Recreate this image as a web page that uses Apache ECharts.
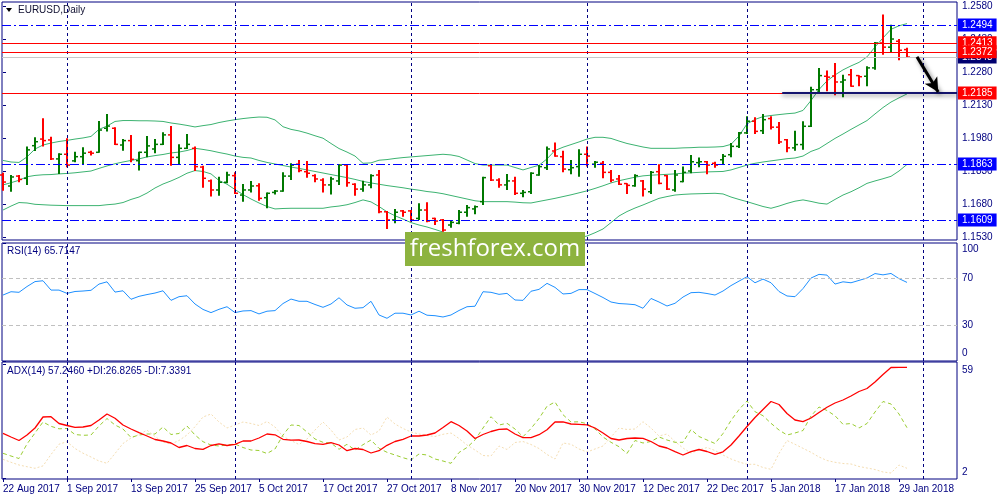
<!DOCTYPE html>
<html>
<head>
<meta charset="utf-8" />
<title>EURUSD,Daily</title>
<style>
  html, body { margin: 0; padding: 0; background: #fff; }
  #chart { width: 1000px; height: 500px; }
</style>
</head>
<body>
<div id="chart"></div>
<script src="https://cdn.jsdelivr.net/npm/echarts@6.0.0/dist/echarts.min.js"></script>
<script>
// date labels, one every 8 bars starting at bar 0
var dateLabels = ['22 Aug 2017', '1 Sep 2017', '13 Sep 2017', '25 Sep 2017', '5 Oct 2017', '17 Oct 2017',
  '27 Oct 2017', '8 Nov 2017', '20 Nov 2017', '30 Nov 2017', '12 Dec 2017', '22 Dec 2017',
  '5 Jan 2018', '17 Jan 2018', '29 Jan 2018'];
var labelBars = [0, 8, 16, 24, 32, 40, 48, 56, 64, 72, 80, 88, 96, 104, 112];
var monthStarts = [8, 29, 51, 73, 93, 115];

// daily OHLC
var opens = [1.1813,1.1763,1.1808,1.1798,1.1946,1.1976,1.1972,1.1886,1.1907,1.1877,
  1.1896,1.1916,1.1916,1.2025,1.2025,1.1949,1.1969,1.1878,1.1916,1.1931,
  1.1952,1.1995,1.1893,1.1934,1.1934,1.1849,1.1786,1.1745,1.1780,1.1810,
  1.1722,1.1745,1.1764,1.1710,1.1734,1.1740,1.1808,1.1862,1.1828,1.1810,
  1.1790,1.1768,1.1786,1.1858,1.1771,1.1749,1.1768,1.1813,1.1646,1.1609,
  1.1650,1.1650,1.1616,1.1654,1.1616,1.1609,1.1586,1.1594,1.1644,1.1659,
  1.1692,1.1855,1.1790,1.1768,1.1786,1.1730,1.1737,1.1813,1.1846,1.1922,
  1.1896,1.1837,1.1851,1.1907,1.1862,1.1866,1.1825,1.1795,1.1774,1.1764,
  1.1786,1.1737,1.1828,1.1810,1.1745,1.1783,1.1831,1.1869,1.1873,1.1866,
  1.1882,1.1905,1.1943,1.2004,1.2057,1.2014,1.2069,1.2030,1.1973,1.1936,
  1.1951,1.2034,1.2200,1.2261,1.2262,1.2235,1.2268,1.2264,1.2261,1.2299,
  1.2412,1.2393,1.2420,1.2382];
var highs = [1.1823,1.1813,1.1813,1.1942,1.1984,1.2070,1.1987,1.1912,1.1980,1.1919,
  1.1939,1.1923,1.2058,1.2090,1.2030,1.1976,1.1995,1.1919,1.1990,1.1976,
  1.2007,1.2035,1.1952,1.1999,1.1942,1.1855,1.1793,1.1805,1.1828,1.1825,
  1.1772,1.1786,1.1775,1.1734,1.1745,1.1825,1.1866,1.1881,1.1877,1.1816,
  1.1798,1.1805,1.1862,1.1862,1.1775,1.1787,1.1816,1.1836,1.1650,1.1659,
  1.1654,1.1654,1.1685,1.1689,1.1619,1.1613,1.1609,1.1654,1.1677,1.1674,
  1.1805,1.1858,1.1798,1.1818,1.1805,1.1745,1.1825,1.1858,1.1942,1.1960,
  1.1923,1.1881,1.1930,1.1942,1.1877,1.1877,1.1836,1.1813,1.1775,1.1816,
  1.1790,1.1831,1.1862,1.1813,1.1836,1.1851,1.1904,1.1892,1.1877,1.1873,
  1.1908,1.1958,1.2008,1.2080,1.2075,1.2090,1.2080,1.2054,1.1976,1.2014,
  1.2057,1.2213,1.2299,1.2287,1.2321,1.2268,1.2294,1.2266,1.2307,1.2417,
  1.2541,1.2495,1.2430,1.2390];
var lows = [1.1742,1.1737,1.1780,1.1768,1.1922,1.1942,1.1881,1.1818,1.1848,1.1871,
  1.1862,1.1901,1.1914,1.2010,1.1949,1.1923,1.1871,1.1833,1.1893,1.1912,
  1.1949,1.1855,1.1862,1.1931,1.1831,1.1755,1.1715,1.1719,1.1775,1.1727,
  1.1692,1.1734,1.1696,1.1662,1.1725,1.1737,1.1790,1.1825,1.1801,1.1780,
  1.1733,1.1725,1.1768,1.1760,1.1719,1.1737,1.1753,1.1639,1.1568,1.1594,
  1.1624,1.1601,1.1609,1.1598,1.1586,1.1556,1.1574,1.1589,1.1624,1.1635,
  1.1677,1.1786,1.1755,1.1745,1.1722,1.1712,1.1727,1.1810,1.1836,1.1896,
  1.1825,1.1816,1.1805,1.1851,1.1846,1.1798,1.1780,1.1768,1.1727,1.1760,
  1.1715,1.1727,1.1771,1.1745,1.1737,1.1780,1.1821,1.1848,1.1816,1.1846,
  1.1860,1.1893,1.1936,1.1999,1.1999,1.1999,1.2019,1.1954,1.1916,1.1923,
  1.1928,1.2031,1.2190,1.2193,1.2175,1.2166,1.2213,1.2216,1.2216,1.2291,
  1.2359,1.2370,1.2334,1.2348];
var closes = [1.1781,1.1804,1.1793,1.1927,1.1964,1.1969,1.1886,1.1907,1.1858,1.1896,
  1.1912,1.1912,1.2017,1.2035,1.1952,1.1969,1.1884,1.1916,1.1945,1.1952,
  1.1995,1.1893,1.1934,1.1952,1.1851,1.1798,1.1745,1.1780,1.1813,1.1730,
  1.1745,1.1763,1.1707,1.1730,1.1740,1.1808,1.1858,1.1833,1.1821,1.1795,
  1.1768,1.1795,1.1858,1.1778,1.1749,1.1768,1.1810,1.1646,1.1609,1.1644,
  1.1644,1.1609,1.1654,1.1604,1.1604,1.1563,1.1598,1.1644,1.1665,1.1669,
  1.1801,1.1790,1.1768,1.1786,1.1730,1.1734,1.1821,1.1851,1.1931,1.1899,
  1.1840,1.1846,1.1907,1.1899,1.1871,1.1825,1.1790,1.1771,1.1766,1.1810,
  1.1749,1.1825,1.1775,1.1749,1.1813,1.1825,1.1873,1.1873,1.1858,1.1858,
  1.1898,1.1943,1.2004,1.2057,1.2011,1.2064,1.2030,1.1963,1.1936,1.1951,
  1.2034,1.2200,1.2264,1.2257,1.2235,1.2244,1.2216,1.2259,1.2299,1.2412,
  1.2393,1.2430,1.2379,1.2348];

// Bollinger bands
var bbUpper = [1.1879,1.1872,1.1870,1.1895,1.1931,1.1949,1.1958,1.1965,1.1970,1.1976,
  1.1981,1.1988,1.2020,1.2035,1.2056,1.2060,1.2060,1.2059,1.2059,1.2058,
  1.2056,1.2049,1.2044,1.2038,1.2031,1.2037,1.2042,1.2051,1.2058,1.2064,
  1.2069,1.2073,1.2076,1.2075,1.2063,1.2032,1.2020,1.2013,1.2003,1.1991,
  1.1980,1.1956,1.1933,1.1917,1.1899,1.1866,1.1868,1.1880,1.1883,1.1888,
  1.1892,1.1895,1.1898,1.1901,1.1904,1.1907,1.1904,1.1897,1.1881,1.1865,
  1.1858,1.1858,1.1858,1.1858,1.1847,1.1836,1.1847,1.1857,1.1886,1.1924,
  1.1939,1.1951,1.1963,1.1976,1.1984,1.1984,1.1979,1.1967,1.1956,1.1948,
  1.1940,1.1934,1.1934,1.1934,1.1934,1.1936,1.1937,1.1939,1.1939,1.1940,
  1.1942,1.1952,1.1990,1.2045,1.2065,1.2078,1.2083,1.2087,1.2091,1.2094,
  1.2106,1.2151,1.2201,1.2240,1.2267,1.2290,1.2308,1.2324,1.2349,1.2394,
  1.2435,1.2474,1.2490,1.2500];
var bbMiddle = [1.1768,1.1778,1.1789,1.1805,1.1811,1.1814,1.1815,1.1818,1.1820,1.1823,
  1.1827,1.1831,1.1843,1.1854,1.1864,1.1872,1.1879,1.1886,1.1895,1.1901,
  1.1906,1.1913,1.1917,1.1924,1.1934,1.1929,1.1923,1.1915,1.1908,1.1899,
  1.1893,1.1890,1.1879,1.1870,1.1863,1.1856,1.1849,1.1843,1.1836,1.1829,
  1.1822,1.1815,1.1808,1.1801,1.1793,1.1784,1.1777,1.1771,1.1765,1.1760,
  1.1755,1.1749,1.1744,1.1738,1.1734,1.1728,1.1720,1.1712,1.1704,1.1696,
  1.1692,1.1692,1.1692,1.1692,1.1690,1.1687,1.1686,1.1693,1.1700,1.1707,
  1.1715,1.1723,1.1732,1.1741,1.1752,1.1764,1.1777,1.1787,1.1795,1.1803,
  1.1809,1.1812,1.1814,1.1816,1.1818,1.1821,1.1823,1.1825,1.1827,1.1828,
  1.1829,1.1836,1.1847,1.1858,1.1866,1.1872,1.1877,1.1882,1.1887,1.1890,
  1.1899,1.1920,1.1933,1.1956,1.1979,1.1999,1.2020,1.2040,1.2060,1.2090,
  1.2119,1.2144,1.2163,1.2181];
var bbLower = [1.1654,1.1672,1.1688,1.1686,1.1680,1.1678,1.1676,1.1675,1.1674,1.1674,
  1.1674,1.1674,1.1674,1.1678,1.1681,1.1688,1.1702,1.1713,1.1731,1.1754,
  1.1772,1.1786,1.1802,1.1821,1.1833,1.1829,1.1818,1.1788,1.1771,1.1747,
  1.1724,1.1704,1.1686,1.1670,1.1659,1.1661,1.1662,1.1662,1.1662,1.1662,
  1.1662,1.1668,1.1672,1.1678,1.1688,1.1700,1.1691,1.1670,1.1646,1.1628,
  1.1613,1.1597,1.1586,1.1577,1.1566,1.1554,1.1545,1.1536,1.1528,1.1520,
  1.1516,1.1512,1.1509,1.1507,1.1504,1.1504,1.1504,1.1504,1.1507,1.1509,
  1.1514,1.1522,1.1529,1.1536,1.1551,1.1568,1.1597,1.1627,1.1647,1.1663,
  1.1677,1.1692,1.1707,1.1715,1.1722,1.1725,1.1727,1.1728,1.1729,1.1730,
  1.1727,1.1713,1.1702,1.1692,1.1681,1.1670,1.1662,1.1672,1.1684,1.1694,
  1.1700,1.1693,1.1685,1.1681,1.1702,1.1722,1.1737,1.1755,1.1775,1.1786,
  1.1796,1.1807,1.1831,1.1861];

// RSI(14)
var rsi = [55.9,58.7,58.2,63.1,67.3,68.0,60.1,60.1,57.3,58.9,
  59.3,59.9,65.2,67.1,58.4,59.5,52.3,54.8,56.3,57.6,
  59.5,51.4,54.5,55.3,48.3,43.7,41.0,43.8,46.0,41.0,
  42.4,42.7,39.9,42.2,42.7,48.7,52.5,50.6,50.6,47.9,
  45.5,48.3,53.6,47.5,44.7,45.2,50.6,39.0,36.2,40.5,
  40.5,39.0,42.2,38.8,38.4,37.3,39.0,42.8,46.0,46.4,
  58.7,58.2,56.5,57.3,51.7,51.4,59.1,60.7,65.8,62.4,
  56.8,57.3,60.5,60.5,57.2,53.8,50.0,48.7,48.3,47.7,
  44.7,53.0,50.0,46.6,48.9,54.2,57.9,58.2,57.2,55.9,
  59.3,63.9,67.7,71.4,66.3,69.4,66.3,58.9,55.1,54.5,
  61.4,70.3,73.4,72.8,65.2,67.1,66.3,68.3,70.3,74.1,
  73.0,74.2,69.8,66.6];

// ADX(14)
var adx = [24.25,22.4,20.65,23.4,26.9,32.4,32.55,29.15,28.15,27.25,
  27.4,28.15,30.9,33.9,31.75,28.4,26.4,24.55,22.9,21.15,
  20.4,19.4,17.15,18.15,16.65,16.25,18.15,19.0,18.15,18.75,
  20.4,20.4,21.9,23.9,23.5,21.25,20.8,20.9,20.15,19.05,
  18.75,19.55,18.4,15.55,16.65,16.15,14.4,15.55,18.25,20.15,
  21.25,22.9,22.9,23.4,24.4,27.15,30.05,28.15,25.4,21.65,
  23.65,25.15,26.25,26.4,23.9,22.05,22.05,23.55,26.05,29.9,
  30.0,28.9,28.75,28.5,26.9,24.4,21.65,20.9,21.65,21.9,
  21.75,20.15,17.9,16.9,15.05,13.4,15.05,16.15,15.15,13.75,
  15.0,18.4,22.9,27.65,32.15,36.15,40.15,38.65,34.15,30.9,
  30.05,31.9,34.65,37.25,39.4,40.9,42.9,45.15,46.65,49.9,
  53.65,57.15,57.25,57.25];
var plusDI = [14.25,12.9,11.65,18.9,24.4,29.9,27.75,26.5,26.65,23.65,
  23.25,23.4,27.9,31.65,28.4,26.4,22.15,23.4,23.9,23.9,
  27.4,23.65,24.15,27.9,23.4,20.05,18.4,17.9,18.4,18.9,
  17.15,15.9,15.65,14.15,16.4,23.4,28.4,28.15,24.9,21.4,
  19.75,19.4,16.25,18.75,15.9,18.55,20.9,16.75,14.75,13.4,
  12.05,10.9,13.9,13.4,11.4,10.4,9.25,14.65,17.15,20.9,
  26.9,32.55,28.4,29.25,26.4,22.55,26.65,31.65,37.75,39.9,
  33.55,29.9,30.0,29.05,26.4,22.4,19.75,17.55,14.15,20.65,
  19.4,20.15,22.4,20.9,19.75,19.75,26.15,22.65,20.9,19.15,
  24.15,30.65,36.15,40.4,35.05,33.05,29.25,25.9,23.4,24.4,
  25.65,32.9,37.4,35.65,33.05,28.75,29.15,26.9,29.15,34.9,
  40.15,38.9,33.9,27.05];
var minusDI = [11.25,9.75,8.4,7.55,6.75,7.95,13.65,18.8,20.05,16.65,
  14.3,12.4,10.4,9.25,14.15,19.15,21.9,23.65,25.8,22.65,
  19.9,18.9,20.65,23.4,27.55,32.4,33.9,29.9,26.9,28.4,
  29.9,29.15,28.15,30.15,27.4,22.65,20.65,18.65,21.4,25.9,
  29.9,25.9,20.9,22.4,26.15,26.9,23.4,25.4,32.4,28.9,
  26.65,24.9,23.9,23.15,22.65,23.75,24.4,21.65,18.4,15.9,
  13.15,12.9,17.9,16.15,19.65,20.15,18.65,16.65,13.65,11.4,
  19.4,18.75,16.4,14.9,16.4,17.9,22.4,26.9,26.15,26.4,
  30.05,26.9,22.9,23.9,20.15,16.9,14.4,15.9,17.15,15.65,
  13.4,11.4,9.9,8.75,8.75,7.15,6.25,14.15,20.65,18.75,
  16.75,14.75,12.4,10.65,9.75,9.15,8.9,7.65,6.9,6.15,
  4.9,4.4,8.4,6.75];

// axis ticks and drawn levels
var priceTicks = [1.1530, 1.1680, 1.1830, 1.1980, 1.2130, 1.2280, 1.2430, 1.2580];
var blueLevels = [1.2494, 1.1863, 1.1609];
var redLevels = [1.2413, 1.2372, 1.2185];
var bidPrice = 1.2348;
var rsiLevels = [70, 30];
var rsiTicks = [0, 30, 70, 100];
var adxTicks = [2, 59];

var NAVY = '#000080';
var FONT = 'Liberation Sans';
var PMIN = 1.1518, PMAX = 1.2598;

var chart = echarts.init(document.getElementById('chart'));

function idxData(arr) {
  return arr.map(function (v, i) { return [i, v]; });
}

function monthLines() {
  return monthStarts.map(function (b) {
    return { xAxis: b, lineStyle: { color: NAVY, type: [3, 3], width: 1 } };
  });
}

function levelLine(v, color, dash) {
  return { yAxis: v, lineStyle: { color: color, type: dash, width: 1 } };
}

function renderBar(params, api) {
  var x = api.value(0);
  var o = api.coord([x, api.value(1)]);
  var h = api.coord([x, api.value(2)]);
  var l = api.coord([x, api.value(3)]);
  var c = api.coord([x, api.value(4)]);
  var color = api.value(4) >= api.value(1) ? '#007800' : '#ff0000';
  var px = Math.round(o[0]);
  return {
    type: 'group',
    children: [
      { type: 'line', shape: { x1: px, y1: h[1], x2: px, y2: l[1] }, style: { stroke: color, lineWidth: 2 } },
      { type: 'line', shape: { x1: px - 3, y1: o[1], x2: px, y2: o[1] }, style: { stroke: color, lineWidth: 1.5 } },
      { type: 'line', shape: { x1: px, y1: c[1], x2: px + 3, y2: c[1] }, style: { stroke: color, lineWidth: 1.5 } }
    ]
  };
}

var priceLevels = [];
blueLevels.forEach(function (v) { priceLevels.push(levelLine(v, '#0000ff', [9, 3, 2, 3])); });
priceLevels.push(levelLine(bidPrice, '#c8c8c8', 'solid'));
redLevels.forEach(function (v) { priceLevels.push(levelLine(v, '#ff0000', 'solid')); });
// drawn trend line and arrow
priceLevels.push([
  { coord: [97.4, 1.2185], symbol: 'none',
    lineStyle: { color: '#14146e', width: 2, type: 'solid', shadowBlur: 4, shadowColor: 'rgba(0,0,0,0.45)', shadowOffsetY: 2 } },
  { coord: [119.25, 1.2185], symbol: 'none' }
]);
priceLevels.push([
  { coord: [114.25, 1.2349], symbol: 'none',
    lineStyle: { color: '#000', width: 3, type: 'solid', shadowBlur: 4, shadowColor: 'rgba(0,0,0,0.5)', shadowOffsetX: 2, shadowOffsetY: 2 } },
  { coord: [116.9, 1.2190], symbol: 'arrow', symbolSize: [11, 14] }
]);

// boxed price tags on the right axis
var tagValues = [bidPrice].concat(blueLevels, redLevels);
var tagStyle = {};
blueLevels.forEach(function (v) { tagStyle[v.toFixed(4)] = 'blue'; });
redLevels.forEach(function (v) { tagStyle[v.toFixed(4)] = 'red'; });
tagStyle[bidPrice.toFixed(4)] = 'bid';
function tagRich(bg) {
  return { backgroundColor: bg, color: '#fff', fontSize: 10, fontFamily: FONT, padding: [2, 4, 1, 4] };
}

var xMin = -0.125, xMax = 119.25;

function xAxisFor(gi, showLabels) {
  return {
    type: 'value', gridIndex: gi, min: xMin, max: xMax,
    splitLine: { show: false },
    axisLine: { show: false },
    axisTick: { show: showLabels, customValues: labelBars, length: 3, lineStyle: { color: NAVY } },
    axisLabel: {
      show: showLabels, customValues: labelBars, align: 'left', margin: 5,
      color: NAVY, fontFamily: FONT, fontSize: 10,
      formatter: function (v) { return dateLabels[labelBars.indexOf(Math.round(v))] || ''; }
    }
  };
}

var option = {
  animation: false,
  backgroundColor: '#ffffff',
  textStyle: { fontFamily: FONT },
  grid: [
    { left: 2, right: 43, top: 2, height: 238, show: true, borderColor: NAVY, borderWidth: 1 },
    { left: 2, right: 43, top: 243, height: 118, show: true, borderColor: NAVY, borderWidth: 1 },
    { left: 2, right: 43, top: 362, height: 117, show: true, borderColor: NAVY, borderWidth: 1 }
  ],
  xAxis: [xAxisFor(0, false), xAxisFor(1, false), xAxisFor(2, true)],
  yAxis: [
    {
      type: 'value', gridIndex: 0, position: 'right', min: PMIN, max: PMAX,
      splitLine: { show: false }, axisLine: { show: false },
      axisTick: { show: true, customValues: priceTicks, length: 3, lineStyle: { color: NAVY } },
      axisLabel: { customValues: priceTicks, margin: 5, color: NAVY, fontSize: 10, fontFamily: FONT,
        formatter: function (v) { return v.toFixed(4); } }
    },
    {
      type: 'value', gridIndex: 1, position: 'right', min: 0, max: 100,
      splitLine: { show: false }, axisLine: { show: false },
      axisTick: { show: true, customValues: rsiTicks, length: 3, lineStyle: { color: NAVY } },
      axisLabel: {
        customValues: rsiTicks, margin: 5, color: NAVY, fontSize: 10, fontFamily: FONT,
        formatter: function (v) {
          if (v === 100) return '{t|100}';
          if (v === 0) return '{b|0}';
          return String(v);
        },
        rich: {
          t: { padding: [12, 0, 0, 0], color: NAVY, fontSize: 10, fontFamily: FONT },
          b: { padding: [0, 0, 16, 0], color: NAVY, fontSize: 10, fontFamily: FONT }
        }
      }
    },
    {
      type: 'value', gridIndex: 2, position: 'right', min: 1.4, max: 59.9,
      splitLine: { show: false }, axisLine: { show: false },
      axisTick: { show: true, customValues: adxTicks, length: 3, lineStyle: { color: NAVY } },
      axisLabel: {
        customValues: adxTicks, margin: 5, color: NAVY, fontSize: 10, fontFamily: FONT,
        formatter: function (v) {
          if (v === 59) return '{t|59}';
          return '{b|' + v + '}';
        },
        rich: {
          t: { padding: [12, 0, 0, 0], color: NAVY, fontSize: 10, fontFamily: FONT },
          b: { padding: [0, 0, 12, 0], color: NAVY, fontSize: 10, fontFamily: FONT }
        }
      }
    },
    {
      type: 'value', gridIndex: 0, position: 'right', min: PMIN, max: PMAX,
      splitLine: { show: false }, axisLine: { show: false }, axisTick: { show: false },
      axisLabel: {
        customValues: tagValues, margin: 1,
        formatter: function (v) {
          var k = v.toFixed(4);
          return '{' + (tagStyle[k] || 'blue') + '|' + k + '}';
        },
        rich: { blue: tagRich('#0000ff'), red: tagRich('#ff0000'), bid: tagRich('#000070') }
      }
    }
  ],
  series: [
    {
      name: 'BB upper', type: 'line', xAxisIndex: 0, yAxisIndex: 0,
      data: idxData(bbUpper), symbol: 'none', lineStyle: { color: '#3cb371', width: 1 }, z: 2
    },
    {
      name: 'BB lower', type: 'line', xAxisIndex: 0, yAxisIndex: 0,
      data: idxData(bbLower), symbol: 'none', lineStyle: { color: '#3cb371', width: 1 }, z: 2
    },
    {
      name: 'BB middle', type: 'line', xAxisIndex: 0, yAxisIndex: 0,
      data: idxData(bbMiddle), symbol: 'none', lineStyle: { color: '#3cb371', width: 1 }, z: 2,
      markLine: { silent: true, precision: 4, symbol: ['none', 'none'], label: { show: false },
        data: monthLines().concat(priceLevels) }
    },
    {
      name: 'EURUSD', type: 'custom', xAxisIndex: 0, yAxisIndex: 0,
      renderItem: renderBar,
      encode: { x: 0, y: [1, 2, 3, 4] },
      data: opens.map(function (o, i) { return [i, o, highs[i], lows[i], closes[i]]; }),
      z: 3
    },
    {
      name: 'RSI(14)', type: 'line', xAxisIndex: 1, yAxisIndex: 1,
      data: idxData(rsi), symbol: 'none', lineStyle: { color: '#1e90ff', width: 1 },
      markLine: {
        silent: true, symbol: ['none', 'none'], label: { show: false },
        data: monthLines().concat(rsiLevels.map(function (v) {
          return { yAxis: v, lineStyle: { color: '#c0c0c0', type: [4, 3], width: 1 } };
        }))
      }
    },
    {
      name: '-DI', type: 'line', xAxisIndex: 2, yAxisIndex: 2,
      data: idxData(minusDI), symbol: 'none', lineStyle: { color: '#f5deb3', width: 1, type: [2, 2] }
    },
    {
      name: '+DI', type: 'line', xAxisIndex: 2, yAxisIndex: 2,
      data: idxData(plusDI), symbol: 'none', lineStyle: { color: '#9acd32', width: 1, type: [4, 3] }
    },
    {
      name: 'ADX(14)', type: 'line', xAxisIndex: 2, yAxisIndex: 2,
      data: idxData(adx), symbol: 'none', lineStyle: { color: '#ff0000', width: 1.3 },
      markLine: { silent: true, symbol: ['none', 'none'], label: { show: false }, data: monthLines() }
    }
  ],
  graphic: [
    { type: 'polygon', shape: { points: [[6, 8], [12, 8], [9, 12]] }, style: { fill: '#000' }, z: 10 },
    { type: 'text', left: 18, top: 5, style: { text: 'EURUSD,Daily', fill: '#101030', font: '10px "Liberation Sans"' }, z: 10 },
    { type: 'text', left: 7, top: 246, style: { text: 'RSI(14) 65.7147', fill: NAVY, font: '10px "Liberation Sans"' }, z: 10 },
    { type: 'text', left: 7, top: 366, style: { text: 'ADX(14) 57.2460 +DI:26.8265 -DI:7.3391', fill: NAVY, font: '10px "Liberation Sans"' }, z: 10 },
    { type: 'rect', shape: { x: 405, y: 232, width: 180, height: 34 }, style: { fill: '#8db33f' }, z: 20 },
    { type: 'text', x: 495, y: 249, style: { text: 'freshforex.com', fill: '#fff', font: '24px "Open Sans"', align: 'center', verticalAlign: 'middle' }, z: 21 }
  ]
};

chart.setOption(option);
</script>
</body>
</html>
